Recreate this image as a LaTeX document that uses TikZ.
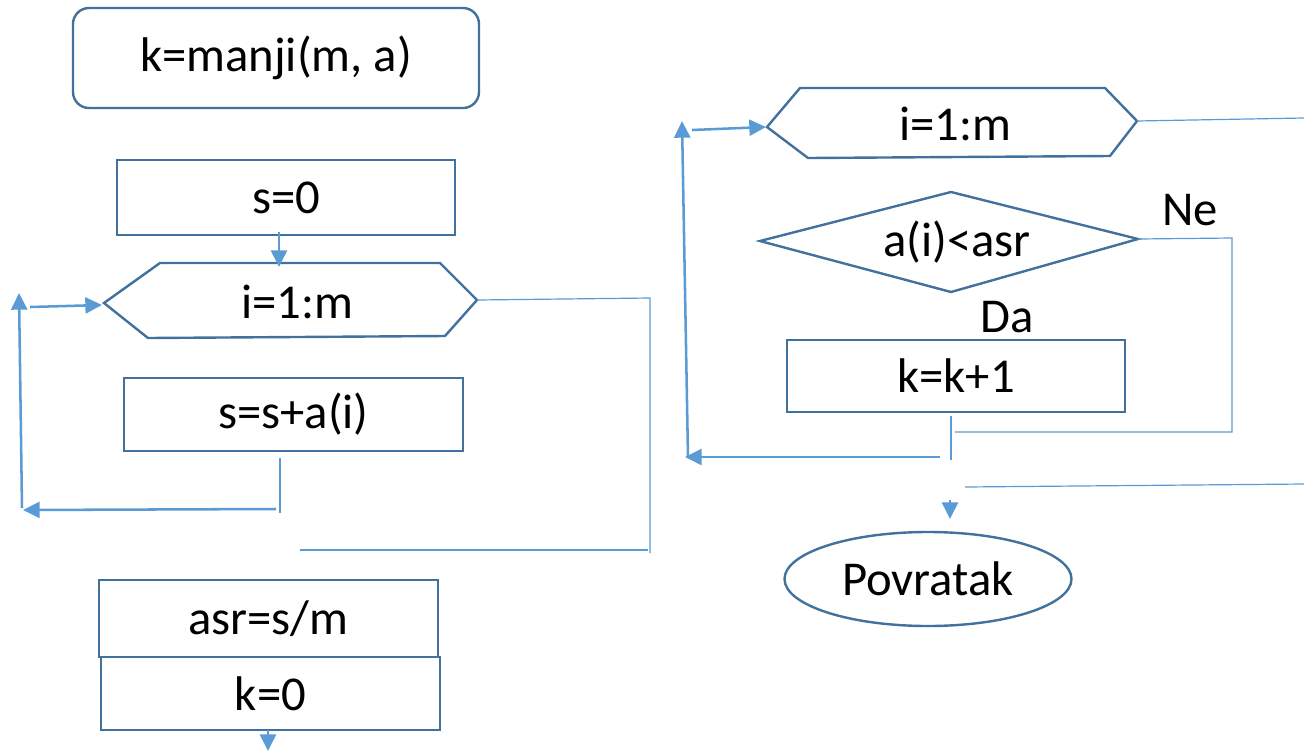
\documentclass[tikz,border=0pt]{standalone}
\usepackage{fontspec}
\setmainfont{Carlito}
\usetikzlibrary{arrows.meta,shapes.geometric}
\definecolor{boxblue}{HTML}{41719C}
\definecolor{linkblue}{HTML}{5B9BD5}
\tikzset{
  outline/.style={draw=boxblue, line width=1.8pt, line join=miter},
  labeltext/.style={font=\fontsize{36.5}{40}\selectfont, text=black, inner sep=0pt},
  boxnode/.style={outline, labeltext, rectangle},
  thinlink/.style={draw=linkblue, line width=0.9pt},
  thicklink/.style={draw=linkblue, line width=1.9pt},
  arrowlink/.style={thicklink, -{Triangle[length=12.5pt,width=12pt]}},
}
\begin{document}
\begin{tikzpicture}[x=0.75pt,y=-0.75pt]
\useasboundingbox (0,0) rectangle (1304,751);

% ---------- left column ----------
\node[boxnode, rounded corners=12pt, minimum width={406*0.75pt}, minimum height={100*0.75pt}]
  (title) at (276,58) {k=manji(m, a)};
\node[boxnode, minimum width={338*0.75pt}, minimum height={75*0.75pt}] (s0) at (286,197.5) {s=0};

% loop header hexagon
\coordinate (h1l) at (104,303);
\coordinate (h1tl) at (160,263);
\coordinate (h1tr) at (440,263);
\coordinate (h1r) at (477,300);
\coordinate (h1br) at (445,336);
\coordinate (h1bl) at (148,338);
\draw[outline] (h1l) -- (h1tl) -- (h1tr) -- (h1r) -- (h1br) -- (h1bl) -- cycle;
\node[labeltext] (loop1) at (297,302) {i=1:m};

\node[boxnode, minimum width={339*0.75pt}, minimum height={73*0.75pt}] (sum) at (293.5,414.5) {s=s+a(i)};

\node[boxnode, minimum width={339*0.75pt}, minimum height={77*0.75pt}] (asr) at (268.5,618.5) {asr=s/m};
\node[boxnode, minimum width={339*0.75pt}, minimum height={73*0.75pt}] (k0) at (270.5,693.5) {k=0};

% connectors of the first loop
\coordinate (a1s) at (279,232);
\coordinate (a1e) at (279,267);
\draw[arrowlink] (a1s) -- (a1e);

\coordinate (sumdown) at (280,458);
\coordinate (sumfoot) at (280,513);
\draw[thinlink] (sumdown) -- (sumfoot);
\coordinate (back1s) at (276,509);
\coordinate (back1e) at (23,510);
\draw[arrowlink] (back1s) -- (back1e);
\coordinate (up1s) at (22,508);
\coordinate (up1e) at (19,293);
\draw[arrowlink] (up1s) -- (up1e);
\coordinate (in1s) at (30,307);
\draw[arrowlink] (in1s) -- (102,305);

\coordinate (exit1a) at (650,298);
\coordinate (exit1b) at (650,553);
\draw[thinlink] (h1r) -- (exit1a) -- (exit1b);
\coordinate (exit1c) at (648,550);
\coordinate (exit1d) at (300,550);
\draw[thinlink] (exit1c) -- (exit1d);

\coordinate (k0s) at (268,730);
\coordinate (k0e) at (268,751);
\draw[arrowlink] (k0s) -- (k0e);

% ---------- right column ----------
\coordinate (h2l) at (767,127);
\coordinate (h2tl) at (800,88);
\coordinate (h2tr) at (1105,88);
\coordinate (h2r) at (1137,121);
\coordinate (h2br) at (1110,156);
\coordinate (h2bl) at (808,158);
\draw[outline] (h2l) -- (h2tl) -- (h2tr) -- (h2r) -- (h2br) -- (h2bl) -- cycle;
\node[labeltext] (loop2) at (955,124) {i=1:m};

\coordinate (dl) at (760,241);
\coordinate (dt) at (951,192);
\coordinate (dr) at (1138,239);
\coordinate (db) at (951,292);
\draw[outline] (dl) -- (dt) -- (dr) -- (db) -- cycle;
\node[labeltext] (cond) at (957,242) {a(i)<asr};

\node[labeltext] (ne) at (1190,210) {Ne};
\node[labeltext] (da) at (1007,317) {Da};

\node[boxnode, minimum width={338*0.75pt}, minimum height={72*0.75pt}] (inc) at (956,376) {k=k+1};

\node[ellipse, outline, labeltext, minimum width={287*0.75pt}, minimum height={94*0.75pt}]
  (ret) at (928,579) {Povratak};

% connectors of the second loop
\coordinate (in2s) at (692,130);
\draw[arrowlink] (in2s) -- (766,127);
\coordinate (up2s) at (688,458);
\coordinate (up2e) at (682,121);
\draw[arrowlink] (up2s) -- (up2e);

\coordinate (exit2) at (1304,118);
\draw[thinlink] (h2r) -- (exit2);

\coordinate (nea) at (1232,238);
\coordinate (neb) at (1232,432);
\coordinate (nec) at (955,432);
\draw[thinlink] (dr) -- (nea) -- (neb) -- (nec);

\coordinate (incdown) at (951,416);
\coordinate (incfoot) at (951,460);
\draw[thinlink] (incdown) -- (incfoot);
\coordinate (back2s) at (940,457);
\coordinate (back2e) at (685,457);
\draw[arrowlink] (back2s) -- (back2e);

\coordinate (done2s) at (965,487);
\coordinate (done2e) at (1304,484);
\draw[thinlink] (done2s) -- (done2e);

\coordinate (retin) at (950,500);
\coordinate (retend) at (950,519);
\draw[arrowlink] (retin) -- (retend);
\end{tikzpicture}
\end{document}
